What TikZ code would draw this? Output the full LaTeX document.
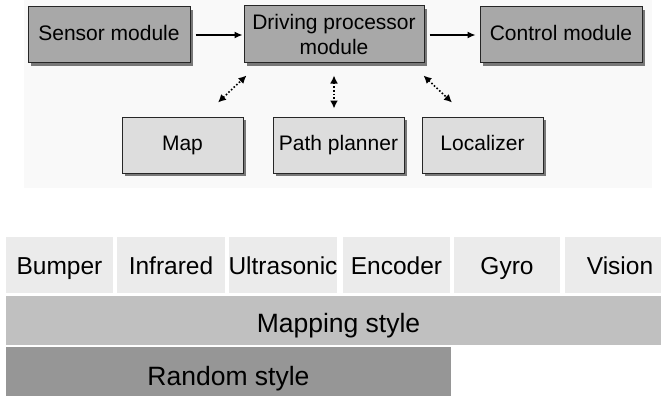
\documentclass[tikz,border=0pt]{standalone}
\usepackage{fontspec}
\setmainfont{Liberation Sans}
\usetikzlibrary{arrows.meta,calc}
\definecolor{bgtop}{RGB}{249,249,249}
\definecolor{darkbox}{RGB}{168,168,168}
\definecolor{lightbox}{RGB}{221,221,221}
\definecolor{shadowc}{RGB}{120,120,120}
\definecolor{cellc}{RGB}{235,235,235}
\definecolor{mapc}{RGB}{192,192,192}
\definecolor{randc}{RGB}{150,150,150}
\tikzset{
  modbox/.style={draw=black!85, line width=1pt, inner sep=0pt, align=center,
    font=\fontsize{21}{25}\selectfont},
  oneline/.style={text height=15pt, text depth=4.5pt},
  darkmod/.style={modbox, fill=darkbox},
  lightmod/.style={modbox, fill=lightbox},
  cellbox/.style={fill=cellc, inner sep=0pt, minimum height=56pt, text height=18pt, text depth=0pt, font=\fontsize{24.5}{28}\selectfont},
  bandbox/.style={inner sep=0pt, text depth=0pt, font=\fontsize{26.5}{30}\selectfont},
  solidarrow/.style={line width=1.3pt, -{Latex[length=8pt,width=7pt]}},
  dotarrow/.style={line width=1.6pt, dotted, {Latex[length=8pt,width=8pt]}-{Latex[length=8pt,width=8pt]}}
}
\begin{document}
\begin{tikzpicture}[x=1pt,y=-1pt]
\useasboundingbox (0,0) rectangle (661,396);
\clip (0,0) rectangle (661,396);
\fill[white] (0,0) rectangle (661,396);
\fill[bgtop] (24,0) rectangle (652,188);
% shadows
\foreach \l/\t/\r/\b in {28/7/190/63, 244/6/424/63, 480/7/642/63, 122/117/243/173, 273/117/404/173, 422/117/543/173}
  \fill[shadowc] (\l+3,\t+3) rectangle (\r+3,\b+3);
% top modules
\node[darkmod, oneline, minimum width=162pt, minimum height=56pt] (sens) at (109,35) {Sensor module};
\node[darkmod, minimum width=180pt, minimum height=57pt] (drv) at (334,34.5) {Driving processor\\module};
\node[darkmod, oneline, minimum width=162pt, minimum height=56pt] (ctrl) at (561,35) {Control module};
\node[lightmod, oneline, minimum width=121pt, minimum height=56pt] (map) at (182.5,145) {Map};
\node[lightmod, oneline, minimum width=131pt, minimum height=56pt] (path) at (338.5,145) {Path planner};
\node[lightmod, oneline, minimum width=121pt, minimum height=56pt] (loc) at (482.5,145) {Localizer};
% arrows
\draw[solidarrow] ($(sens.east)+(5,0)$) -- ($(drv.west)+(-1,0.5)$);
\draw[solidarrow] ($(drv.east)+(5,0.5)$) -- ($(ctrl.west)+(-4,0)$);
\draw[dotarrow] ($(map.north)+(35.5,-14)$) -- ($(drv.south west)+(3,12)$);
\draw[dotarrow] ($(drv.south)+(0,12)$) -- ($(drv.south |- path.north)+(0,-8)$);
\draw[dotarrow] ($(drv.south east)+(-1,12)$) -- ($(loc.north)+(-30.5,-14)$);
% bottom cells
\node[cellbox, minimum width=107pt] (bump) at (59.5,265) {Bumper};
\node[cellbox, minimum width=108pt] (ir) at (171,265) {Infrared};
\node[cellbox, minimum width=108pt] (us) at (283,265) {Ultrasonic};
\node[cellbox, minimum width=107pt] (enc) at (396.5,265) {Encoder};
\node[cellbox, minimum width=106pt] (gyro) at (507,265) {Gyro};
\node[cellbox, minimum width=110pt] (vis) at (620,265) {Vision};
\node[bandbox, text height=23pt, fill=mapc, minimum width=665pt, minimum height=49pt] (mapping) at (338.5,320.5) {Mapping style};
\node[bandbox, text height=26pt, fill=randc, minimum width=445pt, minimum height=50pt] (random) at (228.5,372) {Random style};
\end{tikzpicture}
\end{document}
